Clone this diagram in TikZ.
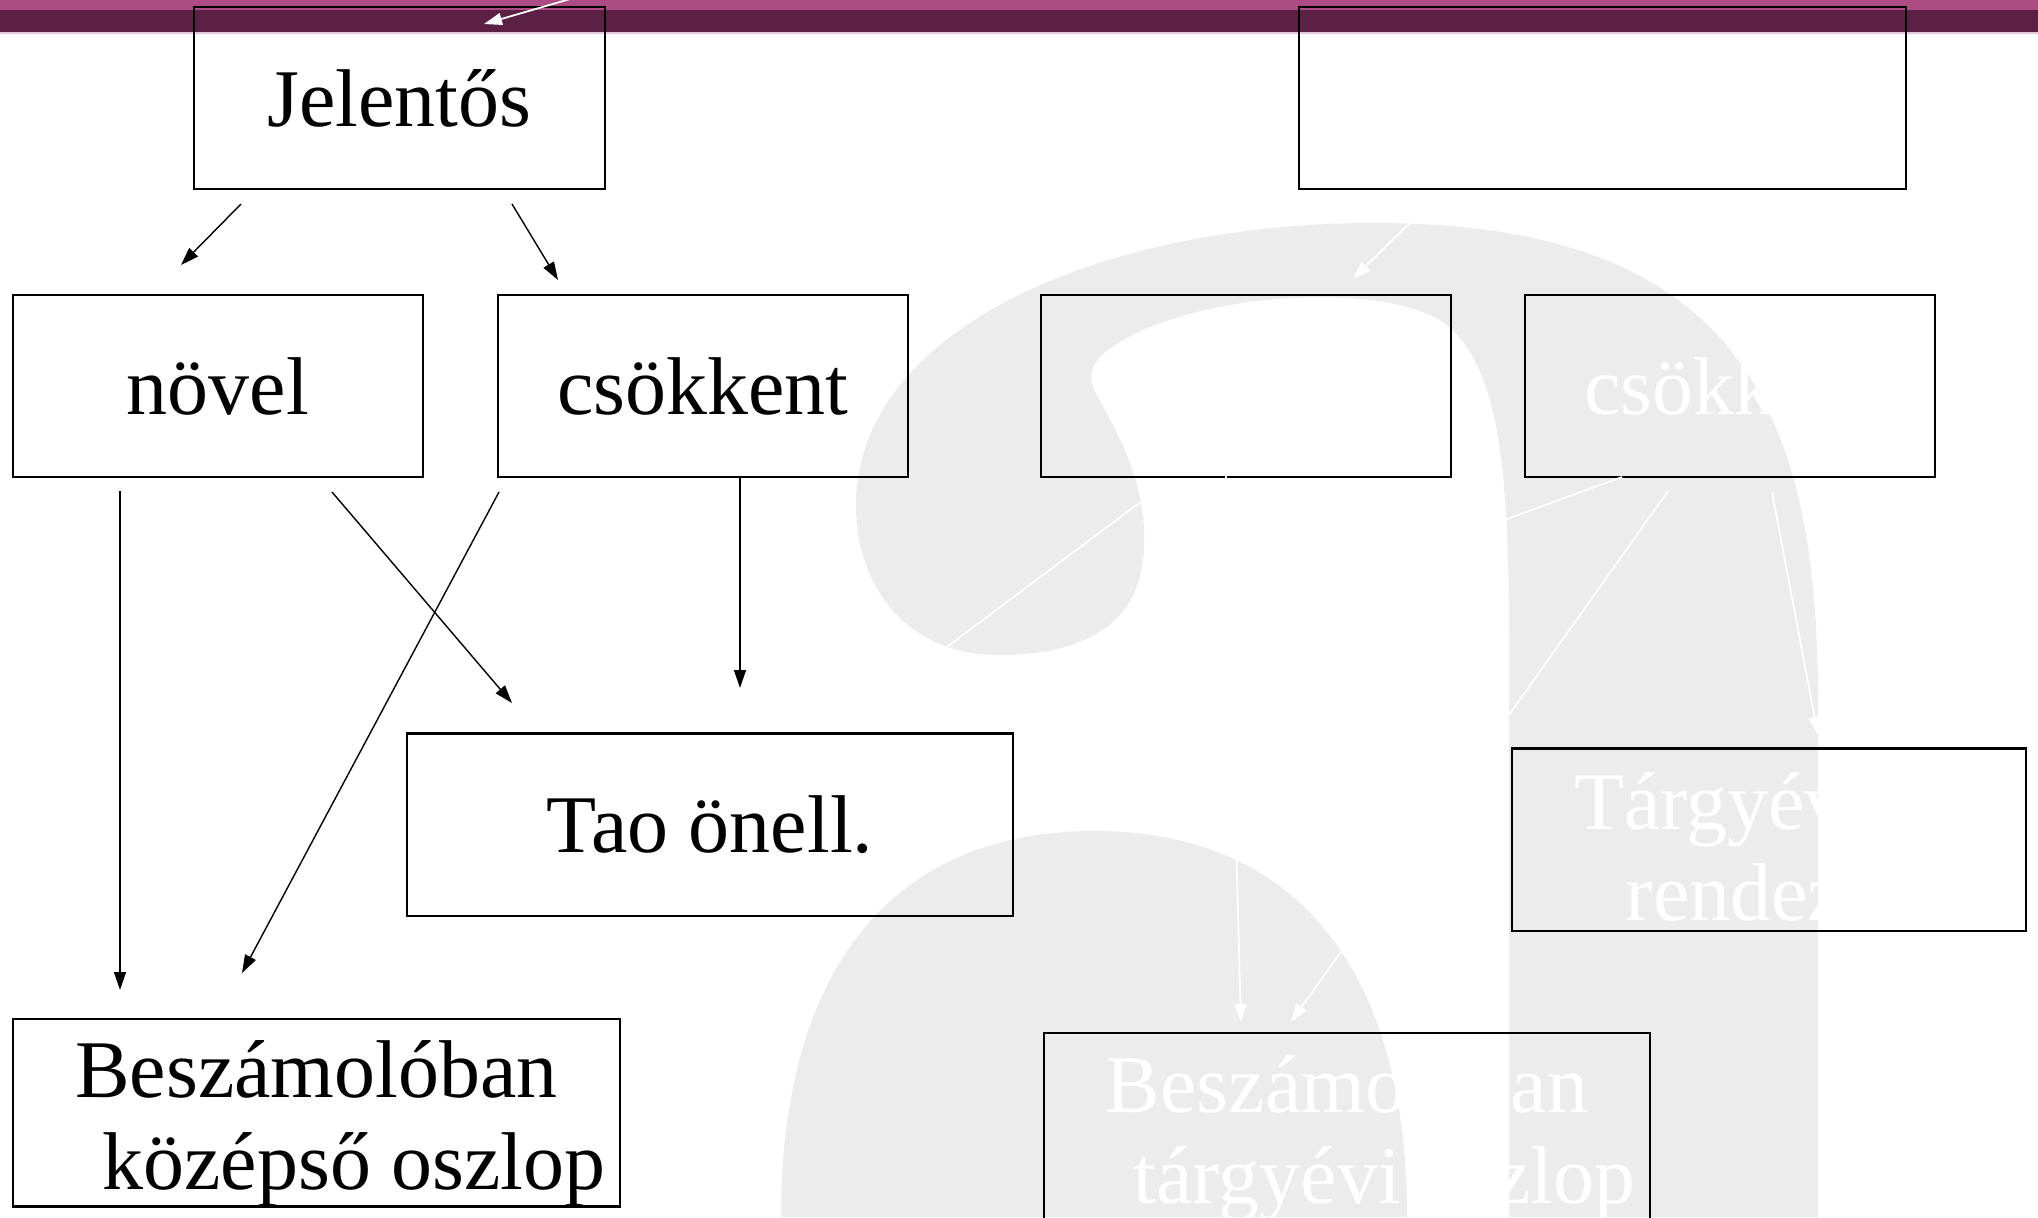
\documentclass[tikz,border=0pt]{standalone}
\usepackage{fontspec}
\setmainfont{Liberation Serif}
\usetikzlibrary{arrows.meta,calc}
\definecolor{logogrey}{HTML}{EBECEB}
\definecolor{barpink}{HTML}{AD4C82}
\definecolor{bardark}{HTML}{5C2044}
\definecolor{barline}{HTML}{E6C6D9}

\begin{document}
\begin{tikzpicture}[x=0.01cm, y=-0.01cm,
    >={Triangle[length=0.18cm,width=0.12cm]},
    box/.style={draw, line width=0.6pt, minimum width=4.1cm, minimum height=1.82cm,
      inner sep=0pt, align=center, font=\fontsize{23.3}{26}\selectfont},
    wide/.style={box, minimum width=6.06cm},
    pale/.style={box, text=white},
    arr/.style={->, line width=0.4pt},
    warr/.style={->, white, line width=0.5pt}]
  \clip (0,0) rectangle (2038,1217);
  \fill[white] (0,0) rectangle (2038,1217);
  % logo in the background
  \fill[logogrey] (781,1217) .. controls (781,967) and (894,831) .. (1094,831)
    .. controls (1294,831) and (1407,967) .. (1407,1217) -- cycle;
  \fill[logogrey] (1509,1217) -- (1509,640)
    .. controls (1509,470) and (1500,360) .. (1440,320)
    .. controls (1370,280) and (1190,295) .. (1115,345)
    .. controls (1088,362) and (1088,378) .. (1095,392)
    .. controls (1125,445) and (1150,495) .. (1143,560)
    .. controls (1135,630) and (1075,655) .. (999,655)
    .. controls (905,655) and (856,585) .. (856,505)
    .. controls (856,330) and (1100,223) .. (1374,223)
    .. controls (1730,223) and (1818,400) .. (1818,700)
    -- (1818,1217) -- cycle;
  % title bar
  \fill[barpink] (0,0) rectangle (2038,10);
  \fill[bardark] (0,10) rectangle (2038,32);
  \fill[barline] (0,32) rectangle (2038,34);

  \node[box] (jelentos) at (399.5,98) {Jelentős};
  \node[wide] (jobbfelso) at (1602.5,98) {};
  \node[box] (novel) at (218,386) {növel};
  \node[box] (csokkent) at (703,386) {csökkent};
  \node[box] (novelb) at (1246,386) {};
  \node[pale] (csokkentb) at (1730,386) {csökkent};
  \node[wide] (tao) at (710,824.5) {Tao önell.};
  \node[pale, minimum width=5.14cm] (targyev) at (1769,839.5) {\rule{0pt}{0.72cm}Tárgyévben\\rendezés};
  \node[wide] (beszkozep) at (316.5,1112.5) {\rule{0pt}{0.79cm}Beszámolóban\\\hspace*{0.75cm}középső oszlop};
  \node[wide, text=white] (besztargy) at (1347,1127.5) {\rule{0pt}{0.79cm}Beszámolóban\\\hspace*{0.75cm}tárgyévi oszlop};

  \coordinate (j1) at (241,204);   \coordinate (n1) at (181,265);
  \coordinate (j2) at (512,204);   \coordinate (c1) at (558,280);
  \coordinate (n2) at (120,491);   \coordinate (k1) at (120,990);
  \coordinate (n3) at (332,492);   \coordinate (t1) at (512,703);
  \coordinate (c2) at (499,492);   \coordinate (k2) at (242,973);
  \coordinate (c3) at (740,477);   \coordinate (t2) at (740,688);
  \draw[arr] (j1) -- (n1);
  \draw[arr] (j2) -- (c1);
  \draw[arr] (n2) -- (k1);
  \draw[arr] (n3) -- (t1);
  \draw[arr] (c2) -- (k2);
  \draw[arr] (c3) -- (t2);

  \coordinate (w1) at (601,-10);   \coordinate (w2) at (484,24);
  \coordinate (f1) at (1440,193);  \coordinate (f2) at (1353,279);
  \coordinate (b1) at (1166,483);  \coordinate (b2) at (900,682);
  \coordinate (b3) at (1226,476);  \coordinate (b4) at (1241,1022);
  \coordinate (d1) at (1622,477);  \coordinate (d2) at (1400,558);
  \coordinate (d3) at (1668,491);  \coordinate (d4) at (1291,1022);
  \coordinate (d5) at (1772,492);  \coordinate (d6) at (1818,735);
  \draw[warr] (w1) -- (w2);
  \draw[warr] (f1) -- (f2);
  \draw[warr] (b1) -- (b2);
  \draw[warr] (b3) -- (b4);
  \draw[warr] (d1) -- (d2);
  \draw[warr] (d3) -- (d4);
  \draw[warr] (d5) -- (d6);
\end{tikzpicture}
\end{document}
